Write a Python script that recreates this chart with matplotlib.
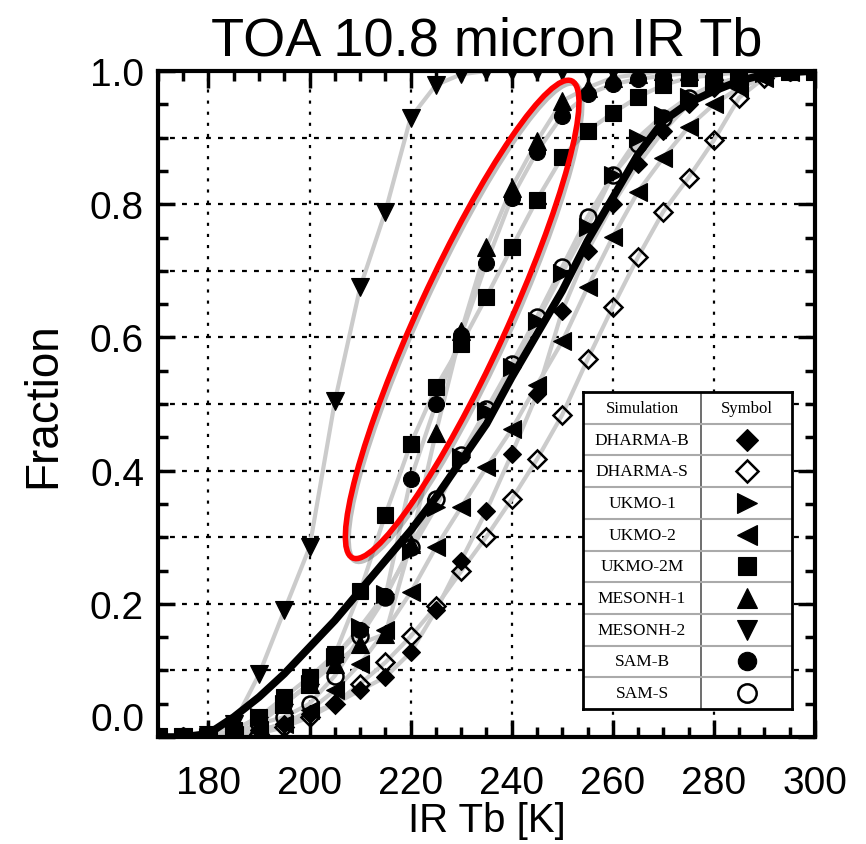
import numpy as np
import matplotlib
matplotlib.use("Agg")
import matplotlib.pyplot as plt
from matplotlib.ticker import MultipleLocator, FuncFormatter
from matplotlib.patches import Ellipse
from matplotlib import patheffects

plt.rcParams['font.family'] = ['Liberation Sans', 'DejaVu Sans']

# brightness temperature bins [K]
tb = [170, 175, 180, 185, 190, 195, 200, 205, 210, 215, 220, 225, 230, 235,
      240, 245, 250, 255, 260, 265, 270, 275, 280, 285, 290, 295, 300]

# cumulative fraction for each simulation
dharma_b = [0, 0, 0, 0.005, 0.01, 0.02, 0.035, 0.05, 0.07, 0.09, 0.127, 0.19, 0.265, 0.34,
            0.425, 0.515, 0.64, 0.73, 0.80, 0.86, 0.91, 0.95, 0.975, 0.99, 0.997, 1, 1]
dharma_s = [0, 0, 0, 0, 0.005, 0.015, 0.03, 0.05, 0.08, 0.112, 0.151, 0.196, 0.249, 0.301,
            0.357, 0.417, 0.484, 0.567, 0.646, 0.721, 0.789, 0.84, 0.896, 0.96, 0.99, 1, 1]
ukmo_1 = [0, 0, 0, 0.01, 0.03, 0.05, 0.08, 0.12, 0.165, 0.215, 0.28, 0.345, 0.42, 0.49,
          0.555, 0.625, 0.697, 0.766, 0.844, 0.9, 0.934, 0.961, 0.98, 0.99, 0.997, 1, 1]
ukmo_2 = [0, 0, 0, 0.003, 0.01, 0.02, 0.04, 0.07, 0.11, 0.16, 0.217, 0.285, 0.345, 0.405,
          0.462, 0.529, 0.594, 0.675, 0.751, 0.819, 0.87, 0.916, 0.95, 0.975, 0.99, 0.998, 1]
ukmo_2m = [0, 0, 0, 0.01, 0.03, 0.06, 0.09, 0.124, 0.219, 0.334, 0.44, 0.525, 0.59, 0.661,
           0.735, 0.807, 0.871, 0.91, 0.937, 0.961, 0.979, 0.99, 0.994, 0.998, 1, 1, 1]
mesonh_1 = [0, 0, 0, 0.005, 0.02, 0.05, 0.08, 0.11, 0.14, 0.155, 0.29, 0.457, 0.609, 0.735,
            0.825, 0.895, 0.955, 0.975, 0.99, 0.995, 1, 1, 1, 1, 1, 1, 1]
mesonh_2 = [0, 0, 0.003, 0.02, 0.094, 0.19, 0.285, 0.504, 0.675, 0.789, 0.93, 0.979, 0.995, 1,
            1, 1, 1, 1, 1, 1, 1, 1, 1, 1, 1, 1, 1]
sam_b = [0, 0, 0, 0.01, 0.03, 0.05, 0.08, 0.12, 0.16, 0.211, 0.387, 0.5, 0.604, 0.712,
         0.81, 0.879, 0.933, 0.965, 0.98, 0.988, 0.993, 0.997, 1, 1, 1, 1, 1]
sam_s = [0, 0, 0, 0.005, 0.02, 0.03, 0.05, 0.092, 0.151, 0.21, 0.286, 0.357, 0.424, 0.492,
         0.56, 0.631, 0.706, 0.781, 0.844, 0.89, 0.93, 0.96, 0.98, 0.99, 0.997, 1, 1]

# observed distribution (thick black curve)
obs = [0.0, 0.0, 0.005, 0.03, 0.06, 0.095, 0.135, 0.175, 0.22, 0.265, 0.31, 0.36, 0.415, 0.47,
       0.54, 0.605, 0.67, 0.745, 0.81, 0.875, 0.925, 0.952, 0.97, 0.985, 0.995, 0.998, 1.0]

names = ['DHARMA-B', 'DHARMA-S', 'UKMO-1', 'UKMO-2', 'UKMO-2M',
         'MESONH-1', 'MESONH-2', 'SAM-B', 'SAM-S']
series = [dharma_b, dharma_s, ukmo_1, ukmo_2, ukmo_2m, mesonh_1, mesonh_2, sam_b, sam_s]
# (marker, size, filled)
styles = [('D', 9.3, True), ('D', 9.3, False), ('>', 12.5, True), ('<', 12.5, True),
          ('s', 11, True), ('^', 12.5, True), ('v', 13, True), ('o', 11.5, True),
          ('o', 11.5, False)]

fig = plt.figure(figsize=(8.66, 8.45), dpi=100)
ax = fig.add_axes([0.1824, 0.1266, 0.7587, 0.7882])

for y in series:
    ax.plot(tb, y, color='#cbcbcb', lw=3, zorder=2, solid_capstyle='round')

ax.plot(tb, obs, color='black', lw=5.5, zorder=3, solid_capstyle='round')

for y, (m, ms, filled) in zip(series, styles):
    ax.plot(tb, y, linestyle='none', marker=m, markersize=ms,
            markerfacecolor='black' if filled else 'none',
            markeredgecolor='black', markeredgewidth=1.8 if not filled else 0.8,
            zorder=4)

# dotted grid
for gx in [180, 200, 220, 240, 260, 280]:
    ax.axvline(gx, color='black', lw=1.6, linestyle=(0, (1.4, 3.6)), zorder=1)
for gy in [0.1, 0.2, 0.3, 0.4, 0.5, 0.6, 0.7, 0.8, 0.9]:
    ax.axhline(gy, color='black', lw=1.6, linestyle=(0, (2.2, 3.2)), zorder=1)

ax.set_xlim(170, 300)
ax.set_ylim(0, 1.0)
ax.xaxis.set_major_locator(MultipleLocator(20))
ax.xaxis.set_minor_locator(MultipleLocator(5))
ax.yaxis.set_major_locator(MultipleLocator(0.2))
ax.yaxis.set_minor_locator(MultipleLocator(0.05))
# 0.0 is written separately, lifted off the x axis
ax.yaxis.set_major_formatter(FuncFormatter(lambda v, p: '' if abs(v) < 1e-9 else f'{v:.1f}'))
ax.tick_params(which='both', direction='in', top=True, right=True, width=2.5,
               labelsize=28)
ax.tick_params(which='major', length=12)
ax.tick_params(which='minor', length=7)
ax.tick_params(axis='x', pad=20)
ax.tick_params(axis='y', pad=10)
for s in ax.spines.values():
    s.set_linewidth(3)
ax.annotate('0.0', xy=(0, 0), xycoords='axes fraction', xytext=(-10, 12),
            textcoords='offset points', ha='right', va='center', fontsize=28)

ax.set_title('TOA 10.8 micron IR Tb', fontsize=39, pad=12)
ax.set_xlabel('IR Tb [K]', fontsize=29, labelpad=0)
ax.set_ylabel('Fraction', fontsize=33, labelpad=18)

# highlight of the cold-biased runs
ell = Ellipse((0.463, 0.627), width=0.79, height=0.135, angle=65,
              transform=ax.transAxes, fill=False, edgecolor='#ff0000', lw=4, zorder=5,
              path_effects=[patheffects.SimpleLineShadow(offset=(2, -2), alpha=0.25),
                            patheffects.Normal()])
ax.add_patch(ell)

# symbol table
tab = fig.add_axes([583 / 866, (845 - 710) / 845, (792 - 583) / 866, (710 - 393) / 845])
tab.set_xlim(0, 1)
tab.set_ylim(0, 10)
tab.set_xticks([])
tab.set_yticks([])
for s in tab.spines.values():
    s.set_linewidth(2)
tab.set_facecolor('white')
split = 0.565
tab.axvline(split, color='#555555', lw=1.2)
for r in range(1, 10):
    tab.axhline(r, color='#aaaaaa', lw=1.5)
serif = ['Liberation Serif', 'DejaVu Serif']
tab.text(split / 2, 9.5, 'Simulation', ha='center', va='center', fontsize=12, family=serif)
tab.text((1 + split) / 2, 9.5, 'Symbol', ha='center', va='center', fontsize=12, family=serif)
for i, (name, (m, ms, filled)) in enumerate(zip(names, styles)):
    yc = 8.5 - i
    tab.text(split / 2, yc, name, ha='center', va='center', fontsize=12.5, family=serif)
    tab.plot([(1 + split) / 2], [yc], marker=m, markersize=ms * 1.15,
             markerfacecolor='black' if filled else 'none', markeredgecolor='black',
             markeredgewidth=1.8 if not filled else 0.8, linestyle='none')

fig.savefig('out.png', dpi=100)
